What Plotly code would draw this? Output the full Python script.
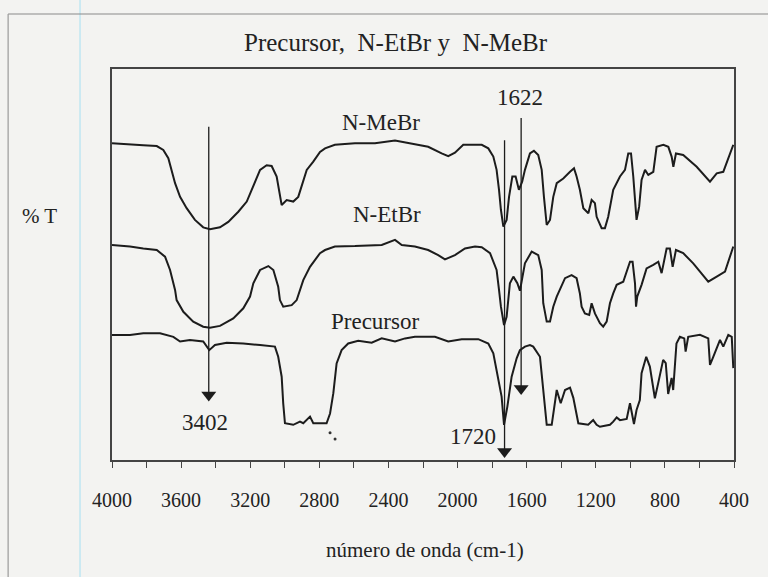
import plotly.graph_objects as go

# ---------------- data ----------------
# wavenumber (cm-1) and %T (arbitrary stacked scale, 0 = bottom of frame, 100 = top)
mebr_wn = [4000, 3896, 3819, 3741, 3703, 3674, 3654, 3635, 3606, 3568, 3520, 3472, 3433, 3375,
           3327, 3269, 3220, 3182, 3143, 3105, 3076, 3047, 3028, 3018, 2989, 2951, 2922, 2902,
           2873, 2835, 2796, 2767, 2710, 2594, 2478, 2362, 2247, 2170, 2092, 2054, 2015, 1967,
           1860, 1822, 1793, 1774, 1760, 1749, 1735, 1716, 1702, 1683, 1664, 1645, 1626, 1610,
           1581, 1558, 1533, 1513, 1500, 1484, 1465, 1446, 1426, 1388, 1349, 1326, 1311, 1292,
           1272, 1243, 1224, 1205, 1195, 1166, 1147, 1128, 1099, 1060, 1031, 1012, 996, 983,
           964, 949, 935, 915, 896, 867, 848, 809, 780, 761, 751, 736, 694, 616, 539, 500,
           462, 404]
mebr_t = [81.0, 80.8, 80.5, 80.3, 79.3, 77.2, 74.2, 70.8, 67.3, 64.4, 61.4, 59.5, 59.0, 59.5,
          60.9, 63.5, 66.1, 69.9, 74.2, 75.4, 75.2, 72.5, 67.3, 65.2, 66.5, 66.1, 67.3, 69.9,
          74.2, 76.3, 78.8, 79.7, 80.6, 81.0, 81.0, 81.7, 80.8, 80.1, 78.4, 77.7, 78.6, 80.6,
          80.6, 79.7, 77.6, 74.2, 69.1, 64.0, 59.7, 61.4, 67.3, 72.5, 72.5, 69.1, 71.2, 74.2,
          78.4, 79.1, 78.0, 74.2, 67.3, 60.1, 61.4, 67.3, 70.8, 72.0, 73.7, 74.6, 72.5, 69.1,
          64.4, 63.1, 66.5, 65.7, 62.2, 59.3, 59.3, 62.2, 69.1, 72.5, 74.2, 78.4, 78.4, 72.5,
          61.4, 64.8, 71.6, 74.2, 72.9, 73.7, 80.1, 80.6, 80.1, 77.6, 75.0, 78.4, 78.0, 75.0,
          71.2, 73.3, 73.7, 80.6]

etbr_wn = [4000, 3896, 3819, 3741, 3693, 3664, 3635, 3626, 3587, 3530, 3472, 3433, 3375, 3298,
           3240, 3201, 3182, 3143, 3095, 3066, 3038, 3028, 3009, 2960, 2931, 2912, 2893, 2854,
           2796, 2767, 2710, 2594, 2439, 2362, 2323, 2247, 2170, 2112, 2073, 2015, 1957, 1899,
           1860, 1812, 1774, 1760, 1749, 1731, 1716, 1697, 1677, 1654, 1639, 1610, 1571, 1533,
           1513, 1504, 1484, 1465, 1446, 1426, 1407, 1378, 1340, 1311, 1292, 1282, 1263, 1238,
           1224, 1205, 1176, 1157, 1137, 1118, 1099, 1079, 1041, 1002, 987, 973, 967, 960, 935,
           906, 867, 838, 819, 790, 771, 755, 736, 694, 636, 549, 500, 452, 404]
etbr_t = [55.0, 54.6, 54.1, 53.7, 52.0, 48.6, 43.5, 40.9, 37.9, 35.4, 34.1, 33.8, 34.3, 36.2,
          38.8, 41.8, 45.2, 48.6, 49.6, 48.6, 44.3, 40.9, 39.2, 39.6, 40.9, 43.5, 46.0, 49.4,
          52.9, 53.7, 54.6, 54.7, 55.0, 56.3, 55.0, 54.6, 53.7, 52.4, 51.3, 52.4, 54.1, 54.6,
          54.4, 52.9, 48.6, 43.5, 39.2, 34.5, 36.6, 45.2, 46.9, 45.2, 43.3, 50.3, 53.3, 52.4,
          48.6, 40.1, 35.4, 35.4, 39.2, 41.8, 43.5, 46.5, 47.3, 46.5, 42.6, 39.2, 37.5, 37.1,
          40.1, 37.5, 35.0, 34.1, 35.4, 40.1, 42.6, 44.8, 45.6, 50.7, 50.7, 45.2, 39.2, 41.8, 44.8,
          49.0, 49.9, 50.7, 47.8, 54.1, 54.1, 49.4, 53.7, 52.9, 50.3, 45.6, 46.9, 48.2, 54.6]

prec_wn = [4000, 3896, 3819, 3722, 3645, 3606, 3549, 3472, 3437, 3404, 3336, 3240, 3143, 3057,
           3038, 3018, 3009, 2999, 2951, 2912, 2893, 2854, 2835, 2758, 2738, 2719, 2700, 2671,
           2633, 2575, 2497, 2439, 2362, 2304, 2247, 2131, 2054, 1976, 1880, 1822, 1793, 1774,
           1755, 1745, 1731, 1712, 1687, 1658, 1639, 1610, 1581, 1562, 1523, 1504, 1484, 1455,
           1426, 1403, 1378, 1349, 1330, 1301, 1244, 1215, 1195, 1176, 1118, 1099, 1079, 1060,
           1021, 1002, 979, 964, 945, 935, 908, 887, 877, 858, 839, 810, 795, 781, 761, 752,
           733, 713, 688, 680, 665, 597, 549, 539, 520, 481, 462, 433, 413, 404]
prec_t = [32.0, 32.0, 32.4, 32.4, 31.5, 30.3, 30.7, 30.3, 28.1, 29.4, 30.0, 29.8, 29.4, 29.0,
          26.4, 21.3, 14.5, 9.4, 9.0, 9.8, 9.4, 11.1, 9.4, 9.4, 11.9, 17.1, 24.7, 28.1,
          29.8, 30.5, 30.0, 31.1, 30.3, 31.1, 31.5, 31.5, 30.3, 30.9, 30.9, 29.8, 27.3, 23.0,
          17.9, 16.2, 9.0, 13.6, 21.3, 26.0, 28.1, 29.0, 29.4, 29.0, 26.4, 17.9, 9.0, 9.0,
          17.9, 14.5, 17.9, 18.5, 15.9, 9.4, 9.0, 10.2, 9.0, 8.5, 9.0, 9.8, 10.9, 10.2,
          10.5, 14.5, 9.2, 12.8, 15.3, 22.2, 26.4, 23.9, 21.3, 15.8, 19.6, 25.6, 24.8, 16.9, 21.0, 17.9,
          29.8, 31.5, 31.1, 27.7, 31.5, 32.0, 31.1, 24.3, 26.4, 30.7, 29.0, 32.0, 31.5, 23.5]

series_names = ["N-MeBr", "N-EtBr", "Precursor"]
label_wn = [2443, 2408, 2478]
label_t = [86.4, 62.9, 35.5]

# peak markers: label, arrow x, arrow top, arrow head centre, label position
peak_labels = ["3402", "1720", "1622"]
peak_x = [3440, 1728, 1632]
peak_top = [85.2, 81.8, 87.5]
peak_head = [16.6, 2.2, 18.3]
peak_label_x = [3462, 1911, 1638]
peak_label_t = [9.5, 5.9, 92.8]

tick_vals = [4000, 3600, 3200, 2800, 2400, 2000, 1600, 1200, 800, 400]
tick_text = [str(v) for v in tick_vals]

# ---------------- figure ----------------
FONT = "Liberation Serif"
INK = "#1c1c1c"
BG = "#f3f3f1"

fig = go.Figure()
for wn, t in [(mebr_wn, mebr_t), (etbr_wn, etbr_t), (prec_wn, prec_t)]:
    fig.add_trace(go.Scatter(x=wn, y=t, mode="lines",
                             line=dict(color=INK, width=2), showlegend=False, hoverinfo="skip"))

# arrow shafts
for px_, top, head in zip(peak_x, peak_top, peak_head):
    fig.add_shape(type="line", x0=px_, x1=px_, y0=top, y1=head, xref="x", yref="y",
                  line=dict(color=INK, width=1.3))
# arrow heads
fig.add_trace(go.Scatter(x=peak_x, y=peak_head, mode="markers",
                         marker=dict(symbol="triangle-down", size=13, color=INK),
                         showlegend=False, hoverinfo="skip"))

# scan specks
fig.add_trace(go.Scatter(x=[2738, 2709], y=[7.0, 5.4], mode="markers",
                         marker=dict(size=3, color="#333"), showlegend=False, hoverinfo="skip"))

for name, x, y in zip(series_names, label_wn, label_t):
    fig.add_annotation(x=x, y=y, text=name, showarrow=False,
                       font=dict(family=FONT, size=23, color="#222"))
for lab, x, y in zip(peak_labels, peak_label_x, peak_label_t):
    fig.add_annotation(x=x, y=y, text=lab, showarrow=False,
                       font=dict(family=FONT, size=23, color="#222"))

# title, axis titles
common = dict(xref="paper", yref="paper", showarrow=False, xanchor="center", yanchor="middle")
fig.add_annotation(x=0.4566, y=1.069, text="Precursor,  N-EtBr y  N-MeBr",
                   font=dict(family=FONT, size=25, color="#222"), **common)
fig.add_annotation(x=0.503, y=-0.23, text="número de onda (cm-1)",
                   font=dict(family=FONT, size=21, color="#222"), **common)
fig.add_annotation(x=-0.116, y=0.625, text="% T",
                   font=dict(family=FONT, size=21, color="#222"), **common)

# page frame and scan artefacts
fig.add_shape(type="line", xref="paper", yref="paper", x0=-0.0514, x1=-0.0514, y0=-0.31, y1=1.18,
              line=dict(color="#bfe6f2", width=1.5), layer="below")
fig.add_shape(type="line", xref="paper", yref="paper", x0=-0.167, x1=1.06, y0=1.1407, y1=1.1407,
              line=dict(color="#8a8a8a", width=1.2))
fig.add_shape(type="line", xref="paper", yref="paper", x0=-0.167, x1=-0.167, y0=1.1407, y1=-0.31,
              line=dict(color="#9a9a9a", width=1.2))

fig.update_layout(
    width=768, height=577,
    margin=dict(l=112, r=34, t=69, b=117),
    paper_bgcolor=BG, plot_bgcolor=BG,
    font=dict(family=FONT, color="#222"),
    xaxis=dict(range=[4000, 400], tickvals=tick_vals, ticktext=tick_text,
               showgrid=False, zeroline=False, showline=True, linecolor="#444", linewidth=1.5,
               mirror=True, ticks="outside", ticklen=6, tickcolor="#444", tickwidth=1,
               minor=dict(dtick=200, tick0=400, ticks="outside", ticklen=6, tickcolor="#444"),
               tickfont=dict(family=FONT, size=20, color="#222"), ticklabelstandoff=15),
    yaxis=dict(range=[0, 100], showticklabels=False, ticks="", showgrid=False, zeroline=False,
               showline=True, linecolor="#444", linewidth=1.5, mirror=True),
)

fig.write_html("out.html", config={"displayModeBar": False},
               post_script="document.body.style.margin='0';document.body.style.background='%s';" % BG)
